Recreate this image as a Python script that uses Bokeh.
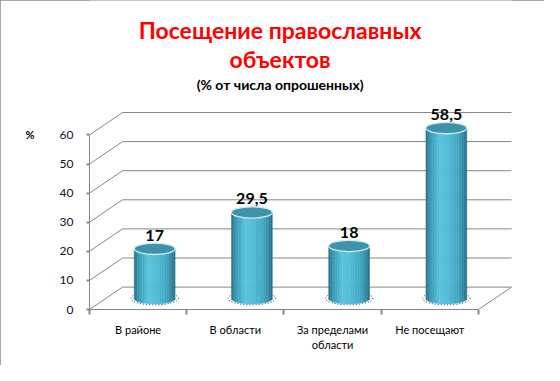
import numpy as np
from bokeh.plotting import figure
from bokeh.models import Range1d, FixedTicker, Label, ColumnDataSource, LinearAxis
from bokeh.embed import file_html
from bokeh.resources import INLINE
from bokeh.core.properties import value

# ---- data ----
categories = ["В районе", "В области", "За пределами\nобласти", "Не посещают"]
values = [17, 29.5, 18, 58.5]
y_ticks = [0, 10, 20, 30, 40, 50, 60]
title_line1 = "Посещение православных"
title_line2 = "объектов"
subtitle = "(% от числа опрошенных)"
unit_label = "%"

FONT = "Lato"
GRID = "#878787"
DX, DY = 0.34, 7.7          # 3-D depth offset in data units
HALF_W, ELL_H = 0.21, 3.9   # cylinder half width / ellipse height

p = figure(width=544, height=365, output_backend="svg", toolbar_location=None,
           x_range=Range1d(0, 4.35), y_range=Range1d(0, 106.2),
           min_border_left=89, min_border_right=32, min_border_top=0,
           min_border_bottom=56)
p.title.visible = False
p.xgrid.visible = False
p.ygrid.visible = False
p.outline_line_color = None
p.styles = {"outline": "2px solid #8a8a8a", "outline-offset": "-2px"}

# ---- axes ----
yax = p.yaxis[0]
yax.ticker = FixedTicker(ticks=y_ticks)
yax.bounds = (0, 60)
yax.axis_line_color = GRID
yax.major_tick_line_color = GRID
yax.major_tick_line_width = 2
yax.major_tick_out = 3
yax.major_tick_in = 0
yax.minor_tick_out = 0
yax.minor_tick_in = 0
yax.major_label_text_font = FONT
yax.major_label_text_font_size = "12px"
yax.major_label_text_color = "#10102a"
yax.major_label_standoff = 13

# unit label ("%") as a second left axis with a single tick at the top value
uax = LinearAxis(ticker=FixedTicker(ticks=[y_ticks[-1]]),
                 major_label_overrides={y_ticks[-1]: unit_label},
                 axis_line_color=None, major_tick_line_color=None,
                 minor_tick_line_color=None, major_tick_out=0, major_tick_in=0,
                 major_label_text_font=FONT, major_label_text_font_size="11px",
                 major_label_text_font_style="bold",
                 major_label_text_color="#000000", major_label_standoff=22)
p.add_layout(uax, "left")

xax = p.xaxis[0]
xax.ticker = FixedTicker(ticks=[i + 0.5 for i in range(len(categories))],
                         minor_ticks=list(range(len(categories) + 1)))
xax.major_label_overrides = {i + 0.5: c for i, c in enumerate(categories)}
xax.bounds = (0, len(categories))
xax.axis_line_color = GRID
xax.major_tick_out = 0
xax.major_tick_in = 0
xax.minor_tick_out = 5
xax.minor_tick_in = 0
xax.minor_tick_line_color = GRID
xax.minor_tick_line_width = 2
xax.major_label_text_font = FONT
xax.major_label_text_font_size = "11px"
xax.major_label_text_color = "#000000"
xax.major_label_standoff = 8

# ---- 3-D walls ----
n = len(categories)
gy = np.array(y_ticks, dtype=float)
p.segment(x0=[DX] * len(gy), y0=gy + DY, x1=[n + DX] * len(gy), y1=gy + DY,
          line_color=GRID, line_width=1)
p.segment(x0=[0] * len(gy), y0=gy, x1=[DX] * len(gy), y1=gy + DY,
          line_color=GRID, line_width=1)
p.segment(x0=[n], y0=[0], x1=[n + DX], y1=[DY], line_color=GRID, line_width=1)

# ---- cylinders ----
stops = [(0.0, (0x2A, 0x6E, 0x82)), (0.12, (0x3A, 0x9A, 0xB5)),
         (0.35, (0x57, 0xC4, 0xDE)), (0.55, (0x50, 0xBB, 0xD6)),
         (0.8, (0x41, 0xA6, 0xC1)), (0.94, (0x2F, 0x84, 0x9B)),
         (1.0, (0x29, 0x6C, 0x7F))]


def grad(u):
    for (u0, c0), (u1, c1) in zip(stops[:-1], stops[1:]):
        if u0 <= u <= u1:
            t = (u - u0) / (u1 - u0) if u1 > u0 else 0
            c = [int(round(a + (b - a) * t)) for a, b in zip(c0, c1)]
            return "#%02x%02x%02x" % tuple(c)
    return "#%02x%02x%02x" % stops[-1][1]


base = DY / 2
NS = 24
xs_c = [i + 0.5 + DX / 2 for i in range(n)]
p.ellipse(x=xs_c, y=[base] * n, width=2 * HALF_W + 0.07, height=ELL_H + 0.6,
          fill_color=None, line_color="#222222", line_dash="1 2", line_width=1)

L, R, B, T, C = [], [], [], [], []
for xc, v in zip(xs_c, values):
    edges = np.linspace(xc - HALF_W, xc + HALF_W, NS + 1)
    for j in range(NS):
        xm = (edges[j] + edges[j + 1]) / 2
        r = (xm - xc) / HALF_W
        L.append(edges[j])
        R.append(edges[j + 1])
        B.append(base - ELL_H / 2 * np.sqrt(max(0.0, 1 - r * r)))
        T.append(base + v)
        C.append(grad((j + 0.5) / NS))
p.quad(left=L, right=R, bottom=B, top=T, fill_color=C, line_color=C, line_width=0.5)

tops = [base + v for v in values]
p.ellipse(x=xs_c, y=tops, width=2 * HALF_W, height=ELL_H,
          fill_color="#3d93ab", line_color="#cfeaf2", line_width=1.3)

# ---- data labels ----
lbl = [("%g" % v).replace(".", ",") for v in values]
src = ColumnDataSource(dict(x=xs_c, y=[t + ELL_H / 2 + 0.9 for t in tops], t=lbl))
p.text(x="x", y="y", text="t", source=src, text_align="center",
       text_baseline="bottom", text_font=value(FONT), text_font_style="bold",
       text_font_size="16px", text_color="#000000")

# ---- titles ----
for txt, yy, size, col in [(title_line1, 95.9, "23px", "#ff0000"),
                           (title_line2, 86.0, "23px", "#ff0000"),
                           (subtitle, 77.3, "14px", "#000000")]:
    p.add_layout(Label(x=1.96, y=yy, text=txt, text_align="center",
                       text_baseline="middle", text_font=FONT,
                       text_font_style="bold", text_font_size=size,
                       text_color=col))

open("out.html", "w").write(file_html(p, INLINE))
